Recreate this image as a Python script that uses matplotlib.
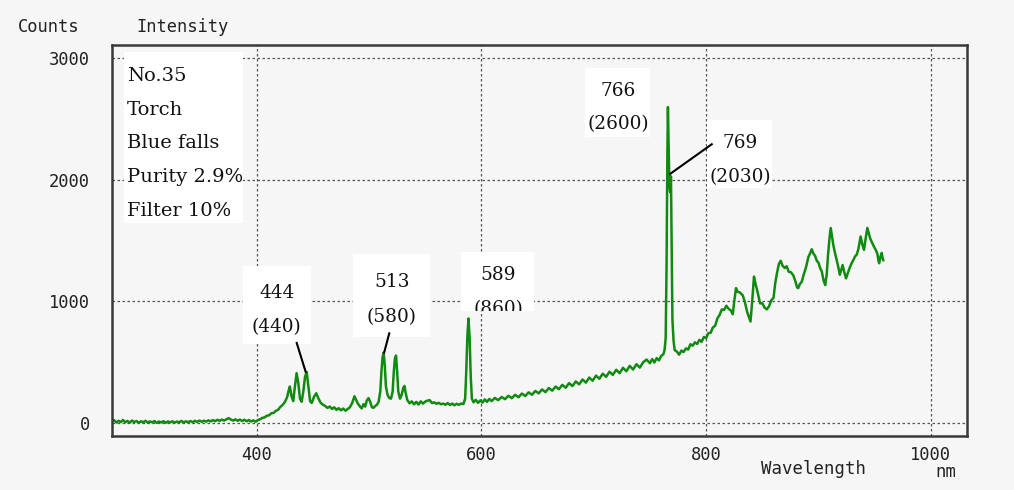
import matplotlib
matplotlib.use("Agg")
import matplotlib.pyplot as plt
from matplotlib import transforms as mtransforms
from matplotlib.patches import Rectangle
from matplotlib.lines import Line2D

# ---------------- data ----------------
wavelength_nm = [
    271, 273, 275, 277, 279, 281, 283, 285, 287, 289,
    291, 293, 295, 297, 299, 301, 303, 305, 307, 309,
    311, 313, 315, 317, 319, 321, 323, 325, 327, 329,
    331, 333, 335, 337, 339, 341, 343, 345, 347, 349,
    351, 353, 355, 357, 359, 361, 363, 365, 367, 369,
    371, 373, 375, 377, 379, 381, 383, 385, 387, 389,
    391, 393, 395, 397, 399, 401, 403, 405, 407, 409,
    411, 413, 415, 417, 419, 421, 423, 425, 427, 428.5,
    429.5, 431, 432.5, 434, 435.5, 437, 438.5, 440, 441.5, 443,
    444.5, 446, 447.5, 449, 451, 453, 455, 457, 459, 461,
    463, 465, 467, 469, 471, 473, 475, 477, 479, 481,
    483, 485, 487, 488.5, 490, 492, 493.5, 495, 496.5, 498,
    499.5, 501, 502.5, 504, 505.5, 507, 508.5, 510, 511, 512,
    513, 514, 515, 516.5, 518, 519.5, 521, 522, 523, 524,
    525, 526, 527.5, 529, 530.5, 531.5, 532.5, 534, 536, 538,
    540, 542, 544, 546, 548, 550, 552, 554, 556, 558,
    560, 562, 564, 566, 568, 570, 572, 574, 576, 578,
    580, 582, 584, 585.5, 586.5, 587.5, 588.5, 589.5, 590.5, 591.5,
    593, 595, 597, 599, 601, 603, 605, 607, 609, 612,
    615, 618, 621, 624, 627, 630, 633, 636, 639, 642,
    645, 648, 651, 654, 657, 660, 663, 666, 669, 672,
    675, 678, 681, 684, 687, 690, 693, 696, 699, 702,
    705, 708, 711, 714, 717, 720, 723, 726, 729, 732,
    735, 738, 741, 744, 747, 750, 752, 754, 756, 758,
    760, 762, 763, 764, 764.8, 765.5, 766, 766.6, 767.3, 768,
    768.7, 769.3, 770, 771, 772, 774, 776, 778, 780, 782,
    784, 786, 788, 790, 792, 794, 796, 798, 800, 802,
    804, 806, 808, 810, 812, 814, 816, 818, 820, 822,
    823.7, 825, 826.6, 828, 830, 832.6, 834.5, 836.5, 838, 839.5,
    841, 842.6, 844, 846, 848, 850, 852, 854, 856, 858,
    860, 861.5, 863, 864.8, 866.4, 868, 870, 871.7, 873.5, 875.5,
    877.6, 879.5, 881, 882, 883.5, 885, 887, 889, 891, 892.5,
    894, 895.5, 897, 898.5, 900, 901.5, 903, 904.5, 906, 907.3,
    908.5, 909.8, 910.9, 912, 913.3, 914.7, 916, 917.5, 919, 920.2,
    921.5, 923, 924.5, 926, 927.5, 929.5, 931, 932.5, 934, 935.5,
    936.5, 937.5, 939, 940.5, 942, 943.5, 944.8, 946, 947.4, 949,
    950, 951, 952.5, 953.3, 954, 955.2, 956.3, 957, 957.7,
]
intensity_counts = [
    12, 24, 4, 18, 7, 25, 6, 17, 2, 20,
    8, 16, 2, 14, 6, 18, 3, 13, 5, 16,
    1, 12, 4, 15, 2, 13, 5, 14, 3, 12,
    6, 17, 4, 14, 7, 16, 6, 18, 9, 20,
    10, 19, 11, 22, 13, 24, 15, 26, 17, 28,
    20, 30, 40, 28, 20, 30, 18, 28, 16, 27,
    14, 24, 12, 22, 10, 24, 30, 42, 46, 60,
    63, 80, 83, 100, 108, 132, 148, 172, 210, 270,
    300, 220, 180, 300, 410, 330, 200, 175, 260, 380,
    420, 300, 180, 165, 215, 245, 200, 165, 150, 140,
    124, 136, 116, 129, 108, 122, 104, 119, 101, 116,
    130, 165, 220, 190, 160, 135, 120, 155, 135, 185,
    205, 175, 130, 125, 140, 150, 175, 260, 420, 540,
    580, 470, 300, 230, 205, 200, 260, 420, 530, 555,
    420, 260, 200, 230, 290, 305, 250, 190, 162, 178,
    154, 174, 152, 178, 159, 176, 184, 188, 164, 170,
    158, 166, 154, 160, 150, 164, 148, 160, 146, 158,
    150, 160, 156, 200, 420, 720, 860, 700, 380, 200,
    170, 190, 166, 186, 168, 194, 174, 198, 180, 206,
    188, 214, 196, 224, 204, 232, 212, 242, 222, 252,
    232, 264, 244, 276, 254, 288, 266, 300, 278, 314,
    290, 328, 304, 342, 318, 358, 332, 374, 348, 390,
    364, 406, 380, 422, 396, 438, 410, 454, 426, 470,
    440, 484, 456, 500, 522, 492, 526, 498, 534, 515,
    552, 566, 600, 700, 1300, 2200, 2600, 2300, 1950, 1900,
    2030, 1500, 850, 680, 600, 588, 562, 596, 584, 614,
    604, 648, 636, 664, 650, 684, 668, 708, 698, 740,
    742, 786, 800, 860, 890, 935, 930, 965, 940, 926,
    895, 1000, 1110, 1080, 1075, 1050, 995, 915, 875, 835,
    1000, 1205, 1145, 1070, 985, 985, 950, 935, 960, 1010,
    1030, 1150, 1230, 1310, 1335, 1295, 1275, 1290, 1245, 1240,
    1215, 1165, 1115, 1110, 1145, 1160, 1225, 1285, 1365, 1395,
    1430, 1395, 1375, 1335, 1320, 1275, 1245, 1175, 1135, 1220,
    1380, 1520, 1605, 1540, 1460, 1400, 1350, 1290, 1220, 1260,
    1300, 1240, 1190, 1230, 1270, 1315, 1340, 1370, 1385, 1430,
    1480, 1535, 1470, 1425, 1520, 1605, 1560, 1520, 1490, 1460,
    1440, 1425, 1390, 1340, 1315, 1370, 1400, 1360, 1340,
]
assert len(wavelength_nm) == len(intensity_counts)

info_lines = ["No.35", "Torch", "Blue falls", "Purity 2.9%", "Filter 10%"]

peak_wl = [444.5, 513, 588.5, 766, 768.7]
peak_counts = [420, 580, 860, 2600, 2030]
peak_names = ["444", "513", "589", "766", "769"]
peak_values = ["(440)", "(580)", "(860)", "(2600)", "(2030)"]

x_ticks = [400, 600, 800, 1000]
y_ticks = [0, 1000, 2000, 3000]

# ---------------- layout (pixel offsets relative to each peak) ----------------
label_layout = [
    dict(box=(-64, 4, 28, 106), tx=-30, ty=(73.7, 40.3), line=(-10, 29, -1, 0), clip=False),
    dict(box=(-30.4, 46.3, 16, 98.5), tx=8, ty=(65.2, 30.8), line=(5.6, 19.2, 0.5, 0), clip=False),
    dict(box=(-7.8, 65.5, 7.5, 66.8), tx=29.8, ty=(38.5, 4.5), line=None, clip=True),
    dict(box=(-82.9, -17.9, -29.6, 38.8), tx=-49.6, ty=(11.1, -21.9), line=None, clip=False),
    dict(box=(35.8, 100.8, -11.9, 56.4), tx=69.1, ty=(28.1, -5.3), line=(40.8, 32.1, -0.9, 2.4), clip=False),
]

W, H = 1014, 490
BG = "#f6f6f6"
GREEN = "#118a11"
MONO = "DejaVu Sans Mono"
SERIF = "DejaVu Serif"

fig = plt.figure(figsize=(W / 100, H / 100), dpi=100, facecolor=BG)
ax = fig.add_axes([112 / W, 1 - 435.5 / H, 855 / W, 390.5 / H])
ax.set_facecolor(BG)

ax.plot(wavelength_nm, intensity_counts, color=GREEN, lw=1.8, zorder=2)

ax.set_xticks(x_ticks)
ax.set_yticks(y_ticks)
ax.set_xticklabels([str(v) for v in x_ticks])
ax.set_yticklabels([str(v) for v in y_ticks])
ax.tick_params(axis="both", length=0, labelsize=12.3, labelcolor="#222222")
ax.tick_params(axis="x", pad=7.5)
ax.tick_params(axis="y", pad=15.8)
for lab in ax.get_xticklabels() + ax.get_yticklabels():
    lab.set_fontfamily(MONO)

ax.set_axisbelow(True)
ax.grid(True, linestyle=(0, (2, 2)), color="#555555", lw=0.9)
for sp in ax.spines.values():
    sp.set_color("#3a3a3a")
    sp.set_linewidth(1.8)


def off(wl, c):
    return mtransforms.Affine2D() + mtransforms.ScaledTranslation(wl, c, ax.transData)


for wl, c, name, val, lay in zip(peak_wl, peak_counts, peak_names, peak_values, label_layout):
    tr = off(wl, c)
    x0, x1, y0, y1 = lay["box"]
    rect = Rectangle((x0, y0), x1 - x0, y1 - y0, transform=tr, facecolor="white",
                     edgecolor="none", zorder=3, clip_on=False)
    ax.add_patch(rect)
    clip_bbox = mtransforms.TransformedBbox(mtransforms.Bbox.from_extents(x0, y0, x1, y1), tr)
    for s, ty in zip((name, val), lay["ty"]):
        t = ax.text(lay["tx"], ty, s, transform=tr, ha="center", va="baseline",
                    fontfamily=SERIF, fontsize=13.3, color="#111111", zorder=4)
        if lay["clip"]:
            t.set_clip_box(clip_bbox)
            t.set_clip_on(True)
    if lay["line"] is not None:
        lx0, ly0, lx1, ly1 = lay["line"]
        ax.add_line(Line2D([lx0, lx1], [ly0, ly1], transform=tr, color="black",
                           lw=1.5, zorder=4, clip_on=False))

ax.set_xlim(271.2, 1032.2)
ax.set_ylim(-103, 3111)


def fx(px):
    return px / W


def fy(py):
    return 1 - py / H


# info box (top-left)
ax.add_patch(Rectangle((fx(124), fy(222.7)), fx(242.7) - fx(124), fy(51.7) - fy(222.7),
                       transform=fig.transFigure, facecolor="white", edgecolor="none",
                       zorder=3, clip_on=False))
for i, s in enumerate(info_lines):
    ax.text(fx(126.7), fy(80.7 + i * 33.85), s, transform=fig.transFigure, ha="left",
            va="baseline", fontfamily=SERIF, fontsize=14, color="#111111", zorder=4)

# axis captions
fig.text(fx(18), fy(31.7), "Counts", ha="left", va="baseline", fontfamily=MONO,
         fontsize=12.3, color="#222222")
fig.text(fx(136), fy(31.7), "Intensity", ha="left", va="baseline", fontfamily=MONO,
         fontsize=12.3, color="#222222")
fig.text(fx(760.7), fy(474), "Wavelength", ha="left", va="baseline", fontfamily=MONO,
         fontsize=12.5, color="#222222")
fig.text(fx(956.7), fy(477), "nm", ha="right", va="baseline", fontfamily=MONO,
         fontsize=12.5, color="#222222")

fig.savefig("out.png", dpi=100, facecolor=BG)
